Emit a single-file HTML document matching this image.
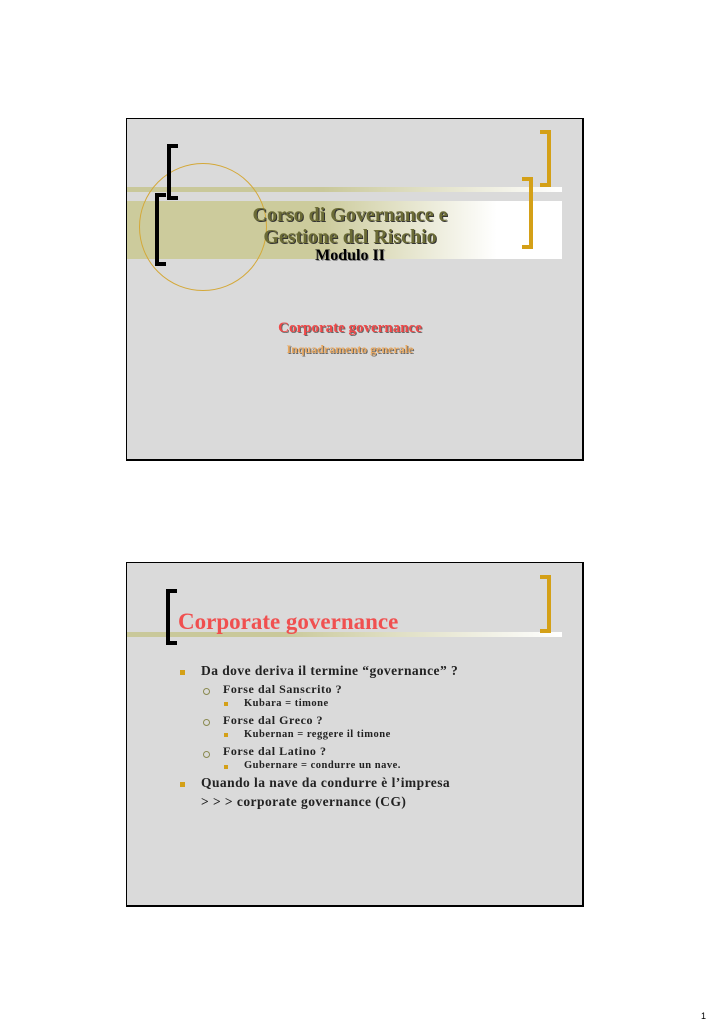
<!DOCTYPE html>
<html><head><meta charset="utf-8"><style>
body{margin:0;width:711px;height:1024px;background:#fff;position:relative;font-family:"Liberation Serif",serif;overflow:hidden}
.a{position:absolute}
.slide{position:absolute;left:126px;width:455px;background:#dadada;border:2px solid #000;border-left-width:1px;border-top-width:1px}
.bk{position:absolute;border:4px solid #000;border-right:none;width:7px}
.gd{position:absolute;border:4px solid #d4a017;border-left:none;width:7px}
.t{position:absolute;white-space:nowrap;font-weight:bold}
.sq{position:absolute;width:5px;height:5px;background:#d4a017}
.ci{position:absolute;width:5px;height:5px;border:1px solid #8a8a50;border-radius:50%}
</style></head><body>
<div class="slide" style="top:118px;height:340px"></div>
<div class="a" style="left:127px;top:187px;width:435px;height:5px;background:linear-gradient(90deg,#c9c89a 0%,#c9c89a 45%,#fff 100%)"></div>
<div class="a" style="left:127px;top:201px;width:435px;height:58px;background:linear-gradient(90deg,#cccb9c 0%,#cccb9c 45%,#fff 85%,#fff 100%)"></div>
<div class="a" style="left:139px;top:163px;width:126px;height:126px;border:1px solid #d4a838;border-radius:50%"></div>
<div class="bk" style="left:167px;top:144px;height:48px"></div>
<div class="bk" style="left:155px;top:193px;height:65px"></div>
<div class="gd" style="left:540px;top:130px;height:49px"></div>
<div class="gd" style="left:522px;top:177px;height:64px"></div>
<div class="t" style="left:200px;width:300px;top:204px;text-align:center;font-size:20px;line-height:22px;color:#6b6b35;text-shadow:1px 1px 0 #333">Corso di Governance e<br>Gestione del Rischio</div>
<div class="t" style="left:200px;width:300px;top:247px;text-align:center;font-size:16px;color:#000;text-shadow:1px 1px 0 #888">Modulo II</div>
<div class="t" style="left:200px;width:300px;top:320px;text-align:center;font-size:15px;color:#f04848;text-shadow:1px 1px 0 #666">Corporate governance</div>
<div class="t" style="left:200px;width:300px;top:342px;text-align:center;font-size:12px;color:#e8a860;text-shadow:1px 1px 0 #666">Inquadramento generale</div>

<div class="slide" style="top:562px;height:342px"></div>
<div class="a" style="left:127px;top:632px;width:435px;height:5px;background:linear-gradient(90deg,#c9c89a 0%,#c9c89a 35%,#fff 100%)"></div>
<div class="bk" style="left:166px;top:589px;height:48px"></div>
<div class="gd" style="left:540px;top:575px;height:50px"></div>
<div class="t" style="left:178px;top:609px;font-size:23px;color:#f05050">Corporate governance</div>
<div class="sq" style="left:180px;top:670px"></div>
<div class="t" style="left:201px;top:663px;font-size:13.5px;letter-spacing:0.45px;color:#222">Da dove deriva il termine “governance” ?</div>
<div class="ci" style="left:203px;top:688px"></div>
<div class="t" style="left:223px;top:682px;font-size:12px;letter-spacing:0.55px;color:#222">Forse dal Sanscrito ?</div>
<div class="sq" style="left:224px;top:702px;width:4px;height:4px"></div>
<div class="t" style="left:244px;top:698px;font-size:10.5px;letter-spacing:0.5px;color:#222">Kubara = timone</div>
<div class="ci" style="left:203px;top:719px"></div>
<div class="t" style="left:223px;top:713px;font-size:12px;letter-spacing:0.55px;color:#222">Forse dal Greco ?</div>
<div class="sq" style="left:224px;top:733px;width:4px;height:4px"></div>
<div class="t" style="left:244px;top:729px;font-size:10.5px;letter-spacing:0.5px;color:#222">Kubernan = reggere il timone</div>
<div class="ci" style="left:203px;top:751px"></div>
<div class="t" style="left:223px;top:744px;font-size:12px;letter-spacing:0.55px;color:#222">Forse dal Latino ?</div>
<div class="sq" style="left:224px;top:765px;width:4px;height:4px"></div>
<div class="t" style="left:244px;top:760px;font-size:10.5px;letter-spacing:0.5px;color:#222">Gubernare = condurre un nave.</div>
<div class="sq" style="left:180px;top:782px"></div>
<div class="t" style="left:201px;top:775px;font-size:13.5px;letter-spacing:0.45px;color:#222">Quando la nave da condurre è l’impresa</div>
<div class="t" style="left:201px;top:794px;font-size:13.5px;letter-spacing:0.45px;color:#222">&gt; &gt; &gt; corporate governance (CG)</div>
<div class="a" style="left:701px;top:1011px;font-size:9px;font-family:'Liberation Sans',sans-serif">1</div>
</body></html>
